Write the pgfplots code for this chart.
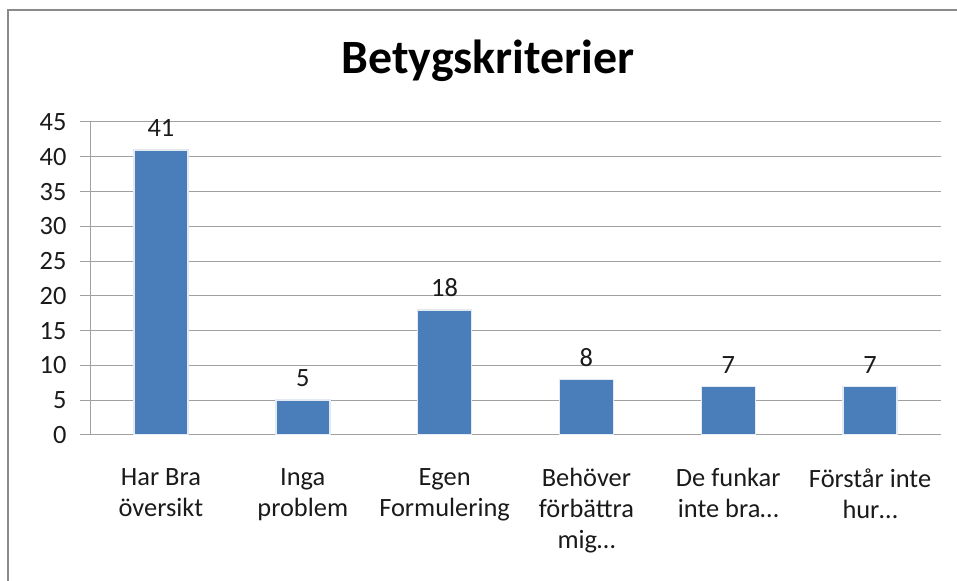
\documentclass[border=0pt]{standalone}
\usepackage{fontspec}
\setmainfont{Carlito}
\usepackage{pgfplots}
\pgfplotsset{compat=1.18}
\definecolor{barblue}{HTML}{4A7EBB}
\definecolor{baredge}{HTML}{E4EAF3}
\definecolor{gridgray}{HTML}{A0A0A0}
\definecolor{framegray}{HTML}{8A8A8A}
\definecolor{textgray}{HTML}{1A1A1A}

\begin{document}
\begin{tikzpicture}[x=1bp,y=1bp]
\useasboundingbox (0,0) rectangle (957,581);
% outer chart frame
\draw[framegray, line width=2bp] (8,-5) -- (8,571) -- (965,571);
% title
\node[font=\fontsize{48}{56}\selectfont\bfseries, text=black] at (488,520) {Betygskriterier};
\begin{axis}[
  at={(90bp,146bp)}, anchor=south west,
  scale only axis, width=851bp, height=313bp,
  xmin=-0.5, xmax=5.5, ymin=0, ymax=45,
  axis lines*=left,
  axis line style={gridgray, line width=1bp, -},
  ytick={0,5,...,45},
  ymajorgrids,
  grid style={gridgray, line width=1bp},
  tick style={gridgray, line width=1bp},
  tick align=outside,
  major tick length=10bp,
  xtick={0,...,5},
  xticklabels={Har Bra\\översikt, Inga\\problem, Egen\\Formulering, Behöver\\förbättra\\mig…, De funkar\\inte bra…, Förstår inte\\hur…},
  x tick style={draw=none},
  minor xtick={-0.5,0.5,...,5.5},
  minor x tick style={gridgray, line width=1bp},
  minor tick length=9bp,
  /pgf/number format/assume math mode=true,
  xticklabel style={align=center, font=\fontsize{26.5}{31}\selectfont, text=textgray, anchor=north, yshift=-20bp},
  yticklabel style={font=\fontsize{26.5}{31}\selectfont, text=textgray, xshift=-10bp},
  nodes near coords,
  every node near coord/.append style={font=\fontsize{26.5}{31}\selectfont, text=textgray, yshift=9bp},
]
\addplot[ybar, bar width=54bp, fill=barblue, draw=baredge, line width=1.5bp]
  coordinates {(0,41) (1,5) (2,18) (3,8) (4,7) (5,7)};
\end{axis}
\end{tikzpicture}
\end{document}
